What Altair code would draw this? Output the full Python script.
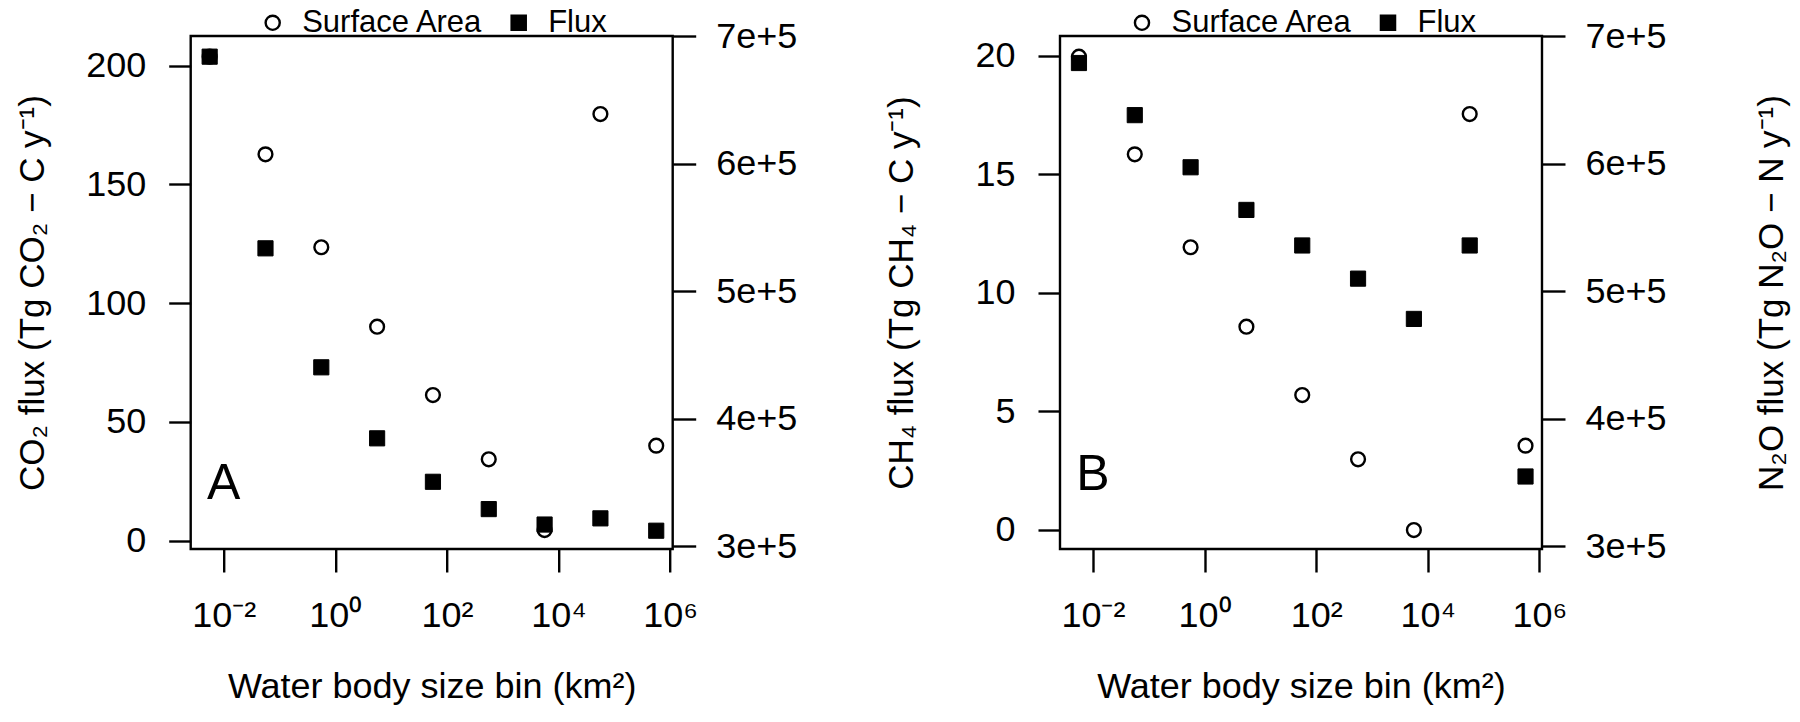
import math
import altair as alt
import pandas as pd

# ---- data ----
size_bin = [0.00562, 0.0562, 0.562, 5.62, 56.2, 562, 5623, 56234, 562341]
surface_area = [683800, 607200, 534300, 472000, 418400, 368000, 312500, 638800, 378700]
co2_flux = [203.8, 123.1, 73.0, 43.1, 24.8, 13.3, 6.8, 9.4, 4.2]
ch4_flux = [19.7, 17.5, 15.3, 13.5, 12.0, 10.6, 8.9, 12.0, 2.25]

x_ticks = [0.01, 1, 100, 10000, 1000000]
x_tick_labels = ["10⁻²", "10⁰", "10²", "10⁴", "10⁶"]
co2_ticks = [0, 50, 100, 150, 200]
ch4_ticks = [0, 5, 10, 15, 20]
area_ticks = [300000, 400000, 500000, 600000, 700000]
series_names = ["Surface Area", "Flux"]

FONT = "Liberation Sans"
W, H = 482, 513
X_DOMAIN = [10 ** -2.59, 10 ** 6.045]

# nested ternary label expression for the x ticks
label_expr = "''"
for v, lab in reversed(list(zip(x_ticks, x_tick_labels))):
    label_expr = (f"abs(log(datum.value)/log(10) - ({round(math.log10(v))})) < 0.01"
                  f" ? '{lab}' : ({label_expr})")


def panel(flux, ydomain, yticks, ytitle, letter, letter_y, right_title):
    df = pd.DataFrame({"size": size_bin, "flux": flux, "area": surface_area})
    xs = alt.X(
        "size:Q",
        scale=alt.Scale(type="log", domain=X_DOMAIN),
        axis=alt.Axis(
            values=x_ticks, labelExpr=label_expr, orient="bottom",
            title="Water body size bin (km²)", tickSize=23, labelPadding=55,
            labelBaseline="alphabetic", titleBaseline="alphabetic", titleY=149,
            titleX=W / 2, titleFontSize=36,
        ),
    )
    leg = alt.Legend(title=None, orient="none", legendX=66.5, legendY=-29,
                     direction="horizontal")
    shape = alt.Shape("series:N",
                      scale=alt.Scale(domain=series_names, range=["circle", "square"]),
                      legend=leg)
    fill = alt.Fill("series:N",
                    scale=alt.Scale(domain=series_names, range=["transparent", "black"]),
                    legend=leg)
    stroke = alt.Stroke("series:N",
                        scale=alt.Scale(domain=series_names, range=["black", "black"]),
                        legend=leg)
    yflux = alt.Y(
        "flux:Q",
        scale=alt.Scale(domain=ydomain, nice=False, zero=False),
        axis=alt.Axis(
            orient="left", values=yticks, tickSize=22, labelPadding=23,
            title=ytitle, titleAngle=270, titleBaseline="alphabetic",
            titleX=-147, titleY=H / 2, titleAlign="center",
        ),
    )
    right_axis = dict(
        orient="right", values=area_ticks, labelExpr="format(datum.value, '.0e')",
        tickSize=23, labelPadding=20, labelAlign="left",
    )
    if right_title:
        right_axis.update(title=right_title, titleAngle=270, titleBaseline="alphabetic",
                          titleX=241, titleY=H / 2, titleAlign="center")
    else:
        right_axis.update(title="")
    yarea = alt.Y(
        "area:Q",
        scale=alt.Scale(domain=[297650, 700000], nice=False, zero=False),
        axis=alt.Axis(**right_axis),
    )

    base = alt.Chart(df)
    fx = base.transform_calculate(series="'Flux'").mark_point(
        size=230, strokeWidth=1, opacity=1, fillOpacity=1
    ).encode(x=xs, y=yflux, shape=shape, fill=fill, stroke=stroke)
    sa = base.transform_calculate(series="'Surface Area'").mark_point(
        size=190, strokeWidth=2.4, opacity=1
    ).encode(x=xs, y=yarea, shape=shape, fill=fill, stroke=stroke)
    txt = alt.Chart(pd.DataFrame({"size": [0.01], "flux": [letter_y], "label": [letter]})).mark_text(
        fontSize=50, font=FONT, color="black", align="center", baseline="middle"
    ).encode(
        x=xs,
        y=alt.Y("flux:Q", scale=alt.Scale(domain=ydomain, nice=False, zero=False), axis=None),
        text="label:N",
    )
    return alt.layer(fx, sa, txt).resolve_scale(y="independent").properties(width=W, height=H)


pA = panel(co2_flux, [-3.5, 212.5], co2_ticks, "CO₂ flux (Tg CO₂ − C y⁻¹)", "A", 24, None)
pB = panel(ch4_flux, [-0.81, 20.84], ch4_ticks, "CH₄ flux (Tg CH₄ − C y⁻¹)", "B", 2.3,
           "N₂O flux (Tg N₂O − N y⁻¹)")

chart = alt.hconcat(pA, pB, spacing=387.3, bounds="flush").resolve_scale(
    shape="independent", fill="independent", stroke="independent"
).resolve_legend(
    shape="independent", fill="independent", stroke="independent"
).properties(
    autosize=alt.AutoSizeParams(type="none"),
    padding={"left": 182.7, "top": 28, "right": 1601, "bottom": 678},
).configure_view(
    stroke="black", strokeWidth=2.4
).configure_axis(
    labelFont=FONT, labelFontSize=36, labelColor="black", tickColor="black",
    tickWidth=2.4, domain=False, grid=False, titleFont=FONT, titleFontSize=35,
    titleColor="black", titleFontWeight="normal",
).configure_legend(
    labelFont=FONT, labelFontSize=31, labelColor="black", labelLimit=500,
    symbolSize=200, symbolStrokeColor="black", symbolStrokeWidth=2.4,
    labelOffset=14, columnPadding=20, padding=0, offset=0,
)

chart.save("out.html", embed_options={"renderer": "svg", "actions": False})
